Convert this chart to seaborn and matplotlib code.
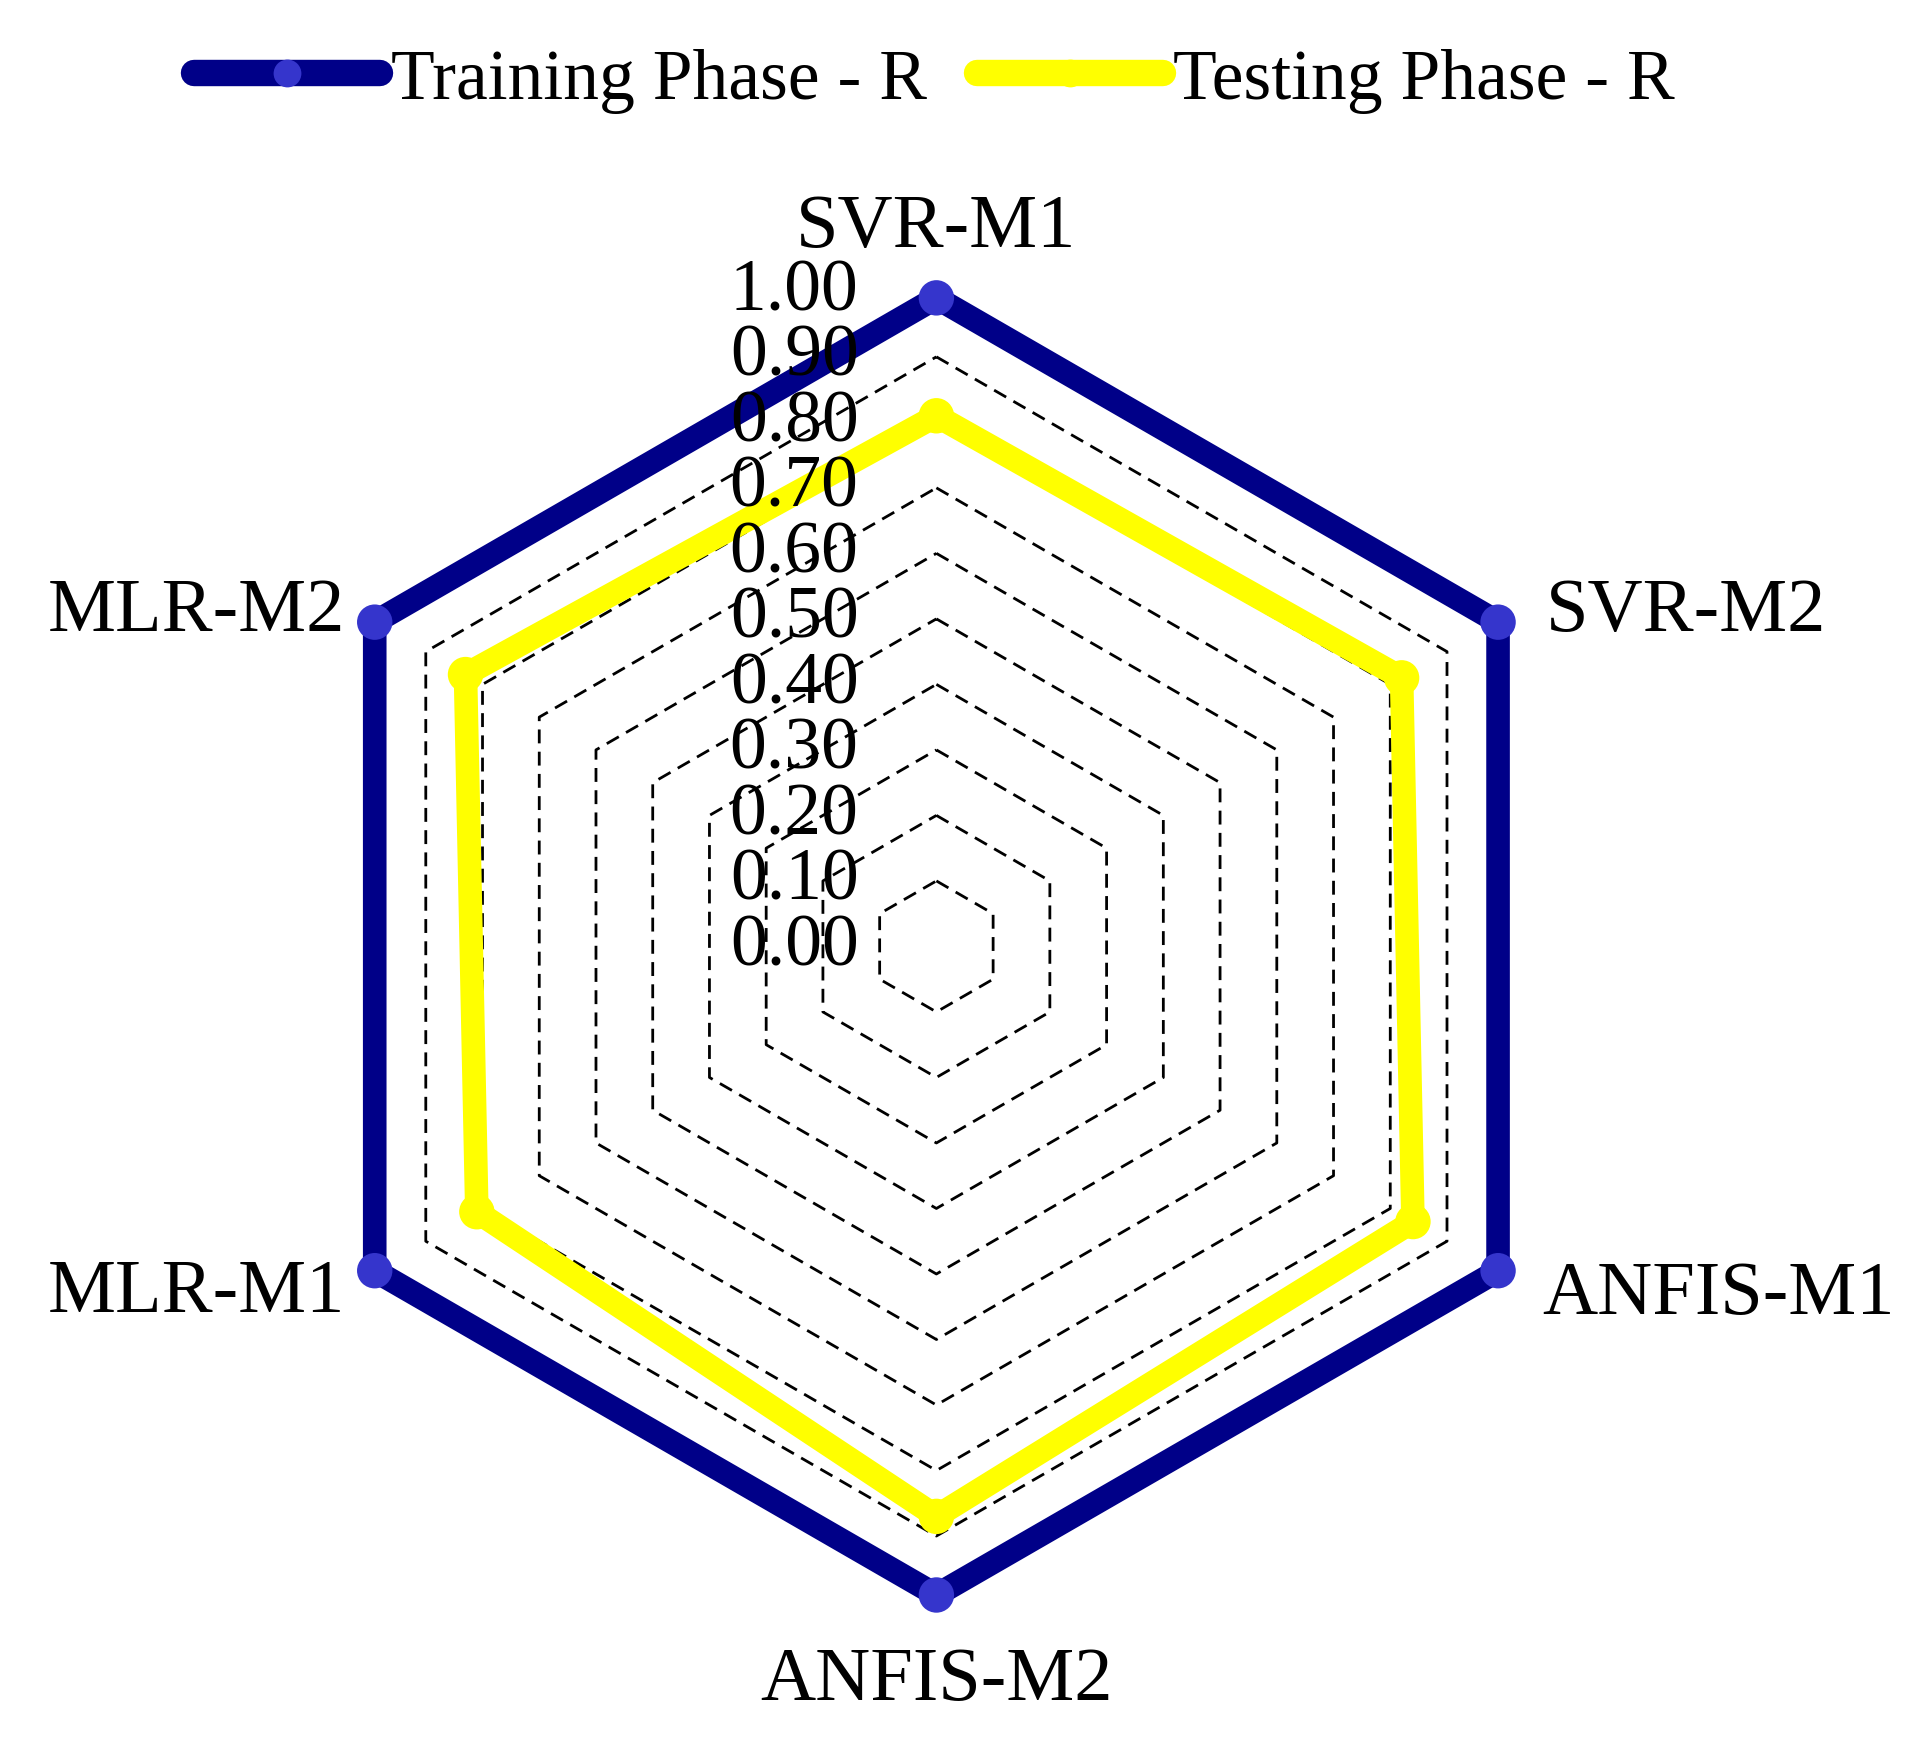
import numpy as np
import pandas as pd
import matplotlib
matplotlib.use("Agg")
import matplotlib.pyplot as plt
from matplotlib.lines import Line2D
import seaborn as sns

# ---- data ----
categories = ["SVR-M1", "SVR-M2", "ANFIS-M1", "ANFIS-M2", "MLR-M1", "MLR-M2"]
training_r = [0.99, 0.99, 0.99, 0.99, 0.99, 0.99]
testing_r = [0.81, 0.82, 0.84, 0.87, 0.81, 0.83]
series_names = ["Training Phase - R", "Testing Phase - R"]
tick_levels = [0.0, 0.1, 0.2, 0.3, 0.4, 0.5, 0.6, 0.7, 0.8, 0.9, 1.0]
tick_labels = ["0.00", "0.10", "0.20", "0.30", "0.40", "0.50",
               "0.60", "0.70", "0.80", "0.90", "1.00"]

sns.set_theme(style="white")
plt.rcParams["font.family"] = ["Liberation Serif", "DejaVu Serif"]
plt.rcParams["text.color"] = "black"
FS_CAT = 55
FS_TICK = 53
FS_LEG = 51.5

n = len(categories)
angles = np.linspace(0, 2 * np.pi, n, endpoint=False)
closed_angles = np.concatenate([angles, [2 * np.pi]])

rows = []
for name, vals in zip(series_names, [training_r, testing_r]):
    for i in range(n + 1):
        rows.append({"series": name, "theta": closed_angles[i],
                     "r": vals[i % n], "pt": i < n})
df = pd.DataFrame(rows)

fig = plt.figure(figsize=(19.11, 17.40), dpi=100)
ax = fig.add_axes([0.147, 0.079, 0.686, 0.753], projection="polar")
ax.set_theta_offset(np.pi / 2)
ax.set_theta_direction(-1)
ax.set_ylim(0, 1.0)
ax.grid(False)
ax.spines["polar"].set_visible(False)
ax.set_xticks([])
ax.set_yticks([])
ax.patch.set_alpha(0)

# dashed hexagonal grid
for lv in tick_levels[1:]:
    ax.plot(closed_angles, [lv] * (n + 1), color="black", lw=2.0,
            ls=(0, (5, 3)), zorder=1, clip_on=False)

line_pal = {"Training Phase - R": "#000088", "Testing Phase - R": "#FFFF00"}
mark_pal = {"Training Phase - R": "#3535CC", "Testing Phase - R": "#FFFF00"}

sns.lineplot(data=df, x="theta", y="r", hue="series", hue_order=series_names[::-1],
             palette=line_pal, sort=False, estimator=None, linewidth=17,
             ax=ax, legend=False, zorder=3, clip_on=False)
sns.scatterplot(data=df[df["pt"]], x="theta", y="r", hue="series",
                hue_order=series_names[::-1], palette=mark_pal, s=650,
                linewidth=0, ax=ax, legend=False, zorder=4, clip_on=False)
ax.set_xlabel("")
ax.set_ylabel("")

# radial tick labels
for lv, lab in zip(tick_levels, tick_labels):
    ax.annotate(lab, xy=(0, lv), xytext=(-56, 0), textcoords="offset points",
                ha="right", va="center", fontsize=FS_TICK, zorder=10,
                annotation_clip=False)

# category labels
offsets = [(0, 46, "center", "center"), (30, 5, "left", "center"),
           (28, -15, "left", "center"), (0, -57, "center", "center"),
           (-17, -13, "right", "center"), (-17, 5, "right", "center")]
for ang, cat, (dx, dy, ha, va) in zip(angles, categories, offsets):
    ax.annotate(cat, xy=(ang, 1.0), xytext=(dx, dy), textcoords="offset points",
                ha=ha, va=va, fontsize=FS_CAT, annotation_clip=False)

handles = [Line2D([0], [0], color=line_pal[s], lw=19, marker="o",
                  markersize=20, markerfacecolor=mark_pal[s], markeredgewidth=0,
                  solid_capstyle="round")
           for s in series_names]
fig.legend(handles, series_names, loc="center", bbox_to_anchor=(0.489, 0.953),
           ncol=2, frameon=False, fontsize=FS_LEG, handlelength=2.6,
           handletextpad=0.15, columnspacing=0.7)

fig.savefig("out.png", dpi=100, facecolor="white")
